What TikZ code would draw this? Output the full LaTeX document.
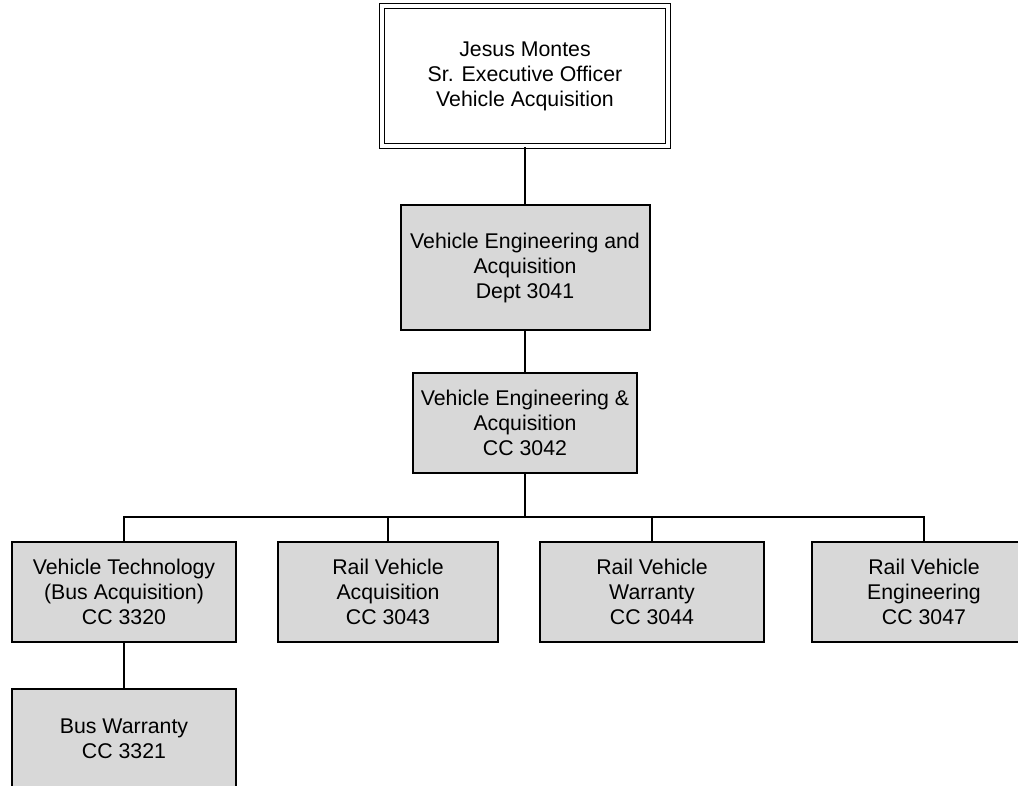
\documentclass[tikz,border=0pt]{standalone}
\usepackage{fontspec}
\setmainfont{Liberation Sans}
\usepackage{tikz}
\usepackage{xcolor}
\definecolor{boxgray}{RGB}{216,216,216}

\tikzset{
  unit/.style={draw=black, line width=2pt, fill=boxgray, align=center,
    inner sep=0pt, font=\fontsize{21.3}{25}\selectfont},
  head/.style={unit, fill=white, line width=1.8pt, double=white, double distance=3.2pt},
  link/.style={line width=1.5pt, color=black}
}

\begin{document}
\begin{tikzpicture}[x=1pt, y=-1pt]
  \useasboundingbox (0,0) rectangle (1018,786);
  \clip (0,0) rectangle (1018,786);
  % top of the chart
  \node[head, minimum width=286pt, minimum height=140pt] (ceo) at (525,76)
    {Jesus Montes\\Sr. Executive Officer\\Vehicle Acquisition};
  \node[unit, minimum width=249pt, minimum height=125pt] (dept) at (525,267.5)
    {Vehicle Engineering and\\Acquisition\\Dept 3041};
  \node[unit, minimum width=224pt, minimum height=100pt] (cc) at (525,423)
    {Vehicle Engineering \&\\Acquisition\\CC 3042};
  % cost centres
  \node[unit, minimum width=224pt, minimum height=100pt] (vt) at (124,592)
    {Vehicle Technology\\(Bus Acquisition)\\CC 3320};
  \node[unit, minimum width=220pt, minimum height=100pt] (rva) at (388,592)
    {Rail Vehicle\\Acquisition\\CC 3043};
  \node[unit, minimum width=224pt, minimum height=100pt] (rvw) at (652,592)
    {Rail Vehicle\\Warranty\\CC 3044};
  \node[unit, minimum width=224pt, minimum height=100pt] (rve) at (924,592)
    {Rail Vehicle\\Engineering\\CC 3047};
  \node[unit, minimum width=224pt, minimum height=100pt] (bw) at (124,739)
    {Bus Warranty\\CC 3321};
  \coordinate (bus) at (525,517);
  % connectors
  \draw[link] (ceo) -- (dept);
  \draw[link] (dept) -- (cc);
  \draw[link] (cc.south) -- (bus);
  \draw[link] (vt.north) |- (bus) -| (rve.north);
  \draw[link] (rva.north) -- (rva.north |- bus);
  \draw[link] (rvw.north) -- (rvw.north |- bus);
  \draw[link] (vt) -- (bw);
\end{tikzpicture}
\end{document}
